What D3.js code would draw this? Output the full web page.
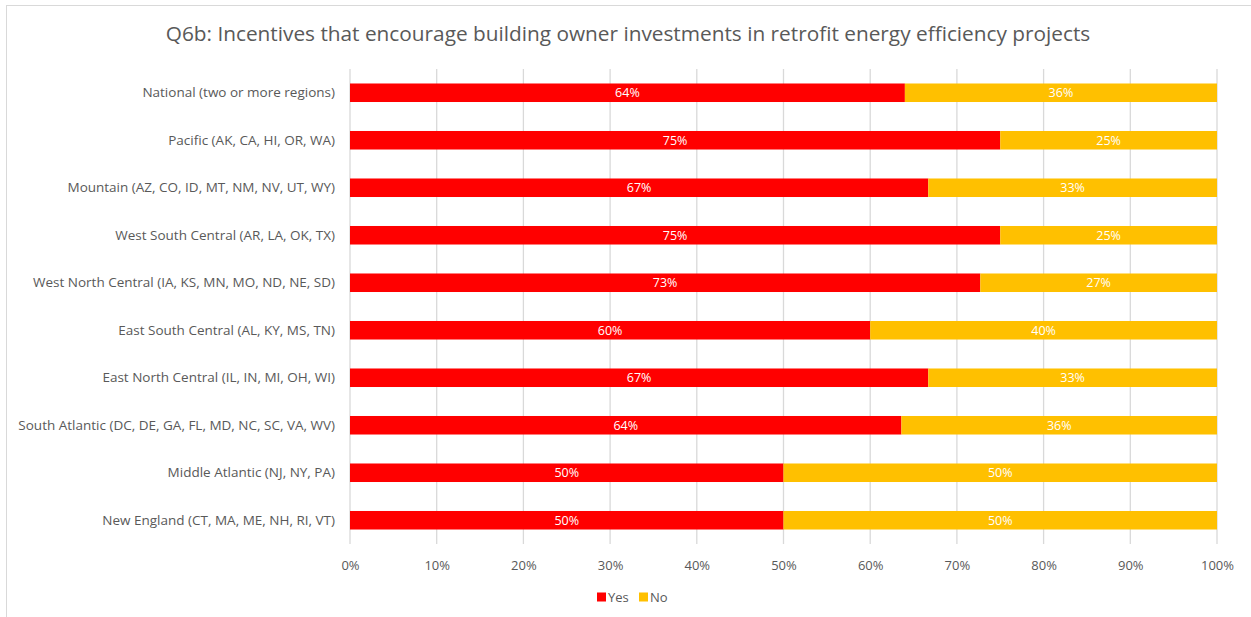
<!DOCTYPE html>
<html>
<head>
<meta charset="utf-8">
<script src="https://cdn.jsdelivr.net/npm/d3@7"></script>
<style>
  body { margin: 0; background: #fff; }
  text { font-family: "Open Sans", "DejaVu Sans", sans-serif; }
</style>
</head>
<body>
<svg width="1251" height="617"></svg>
<script>
let svg = d3.select("svg"),
    width = +svg.attr("width"),
    height = +svg.attr("height");

// Data (share of respondents)
let regions = [
    "National (two or more regions)",
    "Pacific (AK, CA, HI, OR, WA)",
    "Mountain (AZ, CO, ID, MT, NM, NV, UT, WY)",
    "West South Central (AR, LA, OK, TX)",
    "West North Central (IA, KS, MN, MO, ND, NE, SD)",
    "East South Central (AL, KY, MS, TN)",
    "East North Central (IL, IN, MI, OH, WI)",
    "South Atlantic (DC, DE, GA, FL, MD, NC, SC, VA, WV)",
    "Middle Atlantic (NJ, NY, PA)",
    "New England (CT, MA, ME, NH, RI, VT)"
];
let yesValues = [0.64, 0.75, 0.667, 0.75, 0.727, 0.60, 0.667, 0.636, 0.50, 0.50];
let noValues  = [0.36, 0.25, 0.333, 0.25, 0.273, 0.40, 0.333, 0.364, 0.50, 0.50];
let seriesNames = ["Yes", "No"];
let xTicks = [0, 0.1, 0.2, 0.3, 0.4, 0.5, 0.6, 0.7, 0.8, 0.9, 1.0];

let yesColor = "#ff0000";
let noColor = "#ffc000";
let textColor = "#595959";
let gridColor = "#d9d9d9";

let rows = regions.map((r, i) => ({region: r, Yes: yesValues[i], No: noValues[i]}));
let stacked = d3.stack().keys(seriesNames)(rows);

let margin = {left: 350, right: 34, top: 69, bottom: 73};

let x = d3.scaleLinear()
    .domain([0, 1])
    .range([margin.left, width - margin.right]);

let y = d3.scaleBand()
    .domain(regions)
    .range([margin.top, height - margin.bottom])
    .paddingInner(0.61)
    .paddingOuter(0.305);

// chart frame
svg.append("rect")
    .attr("x", 6.5).attr("y", 5.5)
    .attr("width", width + 10).attr("height", height + 10)
    .attr("fill", "none")
    .attr("stroke", "#d9d9d9");

// title
svg.append("text")
    .attr("x", 628).attr("y", 41)
    .attr("text-anchor", "middle")
    .attr("fill", textColor)
    .style("font-size", "20.8px")
    .text("Q6b: Incentives that encourage building owner investments in retrofit energy efficiency projects");

// gridlines
svg.append("g")
    .attr("class", "grid")
    .selectAll("line")
    .data(xTicks).enter().append("line")
        .attr("x1", d => x(d)).attr("x2", d => x(d))
        .attr("y1", margin.top).attr("y2", height - margin.bottom)
        .attr("stroke", gridColor)
        .attr("stroke-width", 1.3);

// x axis labels
let xAxis = d3.axisBottom(x)
    .tickValues(xTicks)
    .tickFormat(d3.format(".0%"))
    .tickSize(0)
    .tickPadding(17);

let xg = svg.append("g")
    .attr("transform", "translate(0," + (height - margin.bottom) + ")")
    .call(xAxis);
xg.select(".domain").remove();
xg.selectAll("text")
    .attr("fill", textColor)
    .style("font-size", "13px")
    .style("font-family", "'Open Sans', sans-serif");

// y axis labels
let yAxis = d3.axisLeft(y).tickSize(0).tickPadding(15);
let yg = svg.append("g")
    .attr("transform", "translate(" + margin.left + ",0)")
    .call(yAxis);
yg.select(".domain").remove();
yg.selectAll("text")
    .attr("fill", textColor)
    .style("font-size", "13.5px")
    .style("font-family", "'Open Sans', sans-serif");

// bars
let colorScale = d3.scaleOrdinal().domain(seriesNames).range([yesColor, noColor]);

let layers = svg.append("g")
    .attr("class", "bars")
    .selectAll("g")
    .data(stacked).enter().append("g")
        .attr("fill", d => colorScale(d.key));

layers.selectAll("rect")
    .data(d => d).enter().append("rect")
        .attr("x", d => x(d[0]))
        .attr("y", d => y(d.data.region))
        .attr("width", d => x(d[1]) - x(d[0]))
        .attr("height", y.bandwidth());

// value labels
layers.selectAll("text")
    .data(d => d).enter().append("text")
        .attr("x", d => (x(d[0]) + x(d[1])) / 2)
        .attr("y", d => y(d.data.region) + y.bandwidth() / 2)
        .attr("dy", "0.36em")
        .attr("text-anchor", "middle")
        .attr("fill", "#fff")
        .style("font-size", "12.5px")
        .text(d => Math.round((d[1] - d[0]) * 100) + "%");

// legend
let legend = svg.append("g")
    .attr("class", "legend")
    .attr("transform", "translate(597,597)");

let legendX = [0, 42];
let items = legend.selectAll("g")
    .data(seriesNames).enter().append("g")
        .attr("transform", (d, i) => "translate(" + legendX[i] + ",0)");
items.append("rect")
    .attr("x", 0).attr("y", -4.5)
    .attr("width", 9).attr("height", 9)
    .attr("fill", d => colorScale(d));
items.append("text")
    .attr("x", 11).attr("dy", "0.36em")
    .attr("fill", textColor)
    .style("font-size", "13px")
    .text(d => d);
</script>
</body>
</html>
